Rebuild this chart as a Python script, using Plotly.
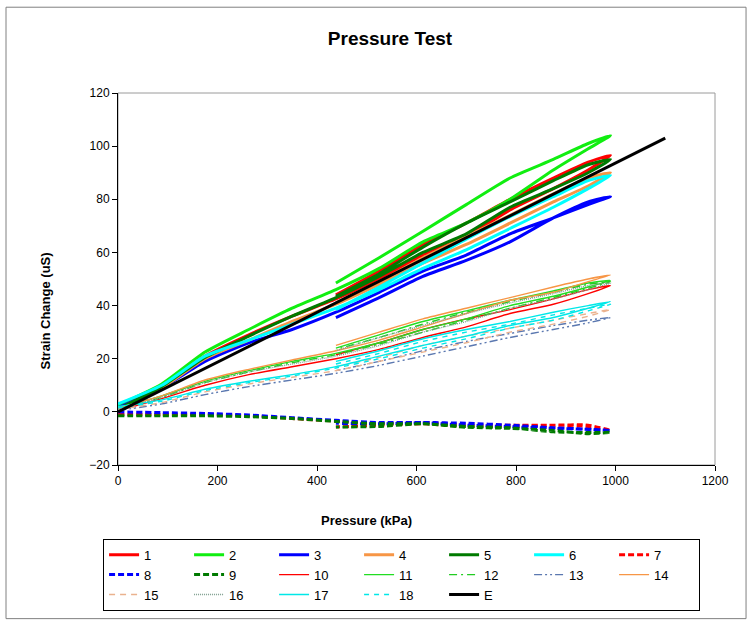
import plotly.graph_objects as go

# Pressure steps: loading up to ~990 kPa, then unloading back to ~440 kPa
pressure = [0, 88, 175, 263, 350, 438, 525, 613, 700, 788, 875, 945, 990,
            945, 875, 788, 700, 613, 525, 438]

s1 = [1, 9.5, 21, 29, 36, 42.5, 50, 59, 66, 76, 84, 91, 96.5, 94, 88, 80, 71, 63, 53, 44]
s2 = [2.5, 10.5, 22.5, 31, 39, 46, 54, 64, 71, 80, 91, 99, 104, 101, 95, 88, 78, 68, 58, 48.5]
s3 = [1.5, 9, 19, 26, 31, 37.5, 45, 53, 59, 67, 73, 78, 81, 79, 73, 64, 57, 51, 43, 35.5]
s4 = [1, 9, 20, 27, 34, 40.5, 48, 56, 63, 71, 79, 85, 90, 88, 82, 74, 66, 58, 49, 41]
s5 = [1, 9.5, 20.5, 28.5, 36, 43, 51, 60, 67, 77, 84, 90, 95, 93, 87, 79, 71, 62, 52, 43.5]
s6 = [3, 10, 21, 27, 33, 39, 46, 54, 61, 69, 77, 84, 89, 87, 81, 73.5, 65, 56, 47, 38.5]
s7 = [-1, -1, -1, -1.5, -2.5, -3.5, -4.5, -4, -5, -5, -5, -5, -7, -5.5, -5, -5.5, -5.5, -4.5, -5, -5.7]
s8 = [0, -0.3, -0.6, -1.2, -2.2, -3.2, -4, -4, -4.3, -5, -6, -6.5, -7, -6.6, -6.2, -5.6, -5, -4.2, -4.5, -4.3]
s9 = [-1.5, -1.5, -1.5, -1.8, -2.5, -3.6, -4.5, -4.5, -5.5, -6, -7.5, -7.8, -7.7, -8.2, -7, -6.2, -5.8, -4.5, -5.5, -5.7]
s10 = [0.5, 5, 10, 14, 17, 20, 23.5, 28, 32, 37, 40.5, 44.5, 47.5, 46, 42.5, 38.5, 35, 31, 26, 21.5]
s11 = [1.5, 6, 11.5, 15.5, 19, 22, 26, 31, 35, 40, 43.5, 47, 49.5, 48.5, 45.5, 42, 38, 34, 29, 24]
s12 = [1, 5.5, 11, 15, 18.5, 21.5, 25.5, 30, 34.5, 39, 43, 46.5, 49, 48, 45, 41.5, 37.5, 33, 28, 23.5]
s13 = [0.5, 3, 6.5, 9.5, 12, 14.5, 17.5, 21, 24.5, 28, 31, 33.5, 35.5, 34.5, 32.5, 29.5, 26.5, 23, 19, 15.5]
s14 = [1.5, 6, 12, 16, 19.5, 23, 27, 32, 37, 42, 45, 49, 51.5, 50, 47, 43, 39, 35, 30, 25]
s15 = [1, 3.5, 7.5, 10.5, 13, 15.5, 19, 22.5, 26, 30, 33, 36, 38.5, 37, 34.5, 31.5, 28.5, 25, 20.5, 17]
s16 = [1, 5.5, 11, 15, 18, 21, 25, 30, 34, 39, 42.5, 46, 48.5, 47.5, 44.5, 41, 37, 32.5, 28, 23]
s17 = [2, 4.5, 8.5, 11.5, 14, 17, 21, 25, 28.5, 32.5, 35.5, 39, 41.5, 40, 37.5, 34, 31, 27.5, 23, 19]
s18 = [1.5, 4, 8, 11, 13.5, 16.5, 20, 24, 27.5, 31.5, 34.5, 38, 40.5, 39, 36.5, 33, 30, 26.5, 22, 18]

# Theoretical (expected) response
e_pressure = [0, 1100]
e_strain = [0, 103]

x_ticks = [0, 200, 400, 600, 800, 1000, 1200]
y_ticks = [-20, 0, 20, 40, 60, 80, 100, 120]

series = [
    ("1", s1, "#ff0000", 3, "solid"),
    ("2", s2, "#11ee11", 3, "solid"),
    ("3", s3, "#0000ff", 3, "solid"),
    ("4", s4, "#f79646", 3, "solid"),
    ("5", s5, "#007a00", 3, "solid"),
    ("6", s6, "#00ffff", 3, "solid"),
    ("7", s7, "#ff0000", 3, "6px,3px"),
    ("8", s8, "#0000ff", 3, "6px,3px"),
    ("9", s9, "#007a00", 3, "6px,3px"),
    ("10", s10, "#ff0000", 1.4, "solid"),
    ("11", s11, "#22dd22", 1.4, "solid"),
    ("12", s12, "#22cc22", 1.4, "8px,4px,2px,4px"),
    ("13", s13, "#5b78b0", 1.4, "8px,3px,2px,3px,2px,3px"),
    ("14", s14, "#f79646", 1.4, "solid"),
    ("15", s15, "#eab28e", 1.4, "6px,5px"),
    ("16", s16, "#7f9f8f", 1.4, "1px,1px"),
    ("17", s17, "#00e8e8", 1.4, "solid"),
    ("18", s18, "#00e8e8", 1.4, "5px,5px"),
]

fig = go.Figure()
for name, ys, color, width, dash in series:
    fig.add_trace(go.Scatter(
        x=pressure, y=ys, name=name, mode="lines",
        line=dict(color=color, width=width, dash=dash,
                  shape="spline", smoothing=0.6),
    ))
fig.add_trace(go.Scatter(
    x=e_pressure, y=e_strain, name="E", mode="lines",
    line=dict(color="#000000", width=3),
))

font_family = "Liberation Sans, Arial, sans-serif"

fig.update_layout(
    width=747, height=621,
    margin=dict(l=118, r=32, t=93, b=155),
    paper_bgcolor="white", plot_bgcolor="white",
    font=dict(family=font_family, size=12, color="black"),
    title=dict(
        text="<b>Pressure Test</b>", font=dict(size=19, family=font_family),
        x=0.4556, xref="paper", xanchor="center",
        y=1 - 38 / 621, yref="container", yanchor="middle",
    ),
    xaxis=dict(
        range=[0, 1200], tickvals=x_ticks, showgrid=False, zeroline=False,
        showline=True, linecolor="black", linewidth=1,
        ticks="outside", ticklen=5, tickcolor="black",
        tickfont=dict(size=12), automargin=False,
    ),
    yaxis=dict(
        range=[-20, 120], tickvals=y_ticks, showgrid=False, zeroline=False,
        showline=True, linecolor="black", linewidth=1,
        ticks="outside", ticklen=5, tickcolor="black",
        tickfont=dict(size=12), automargin=False,
    ),
    legend=dict(
        orientation="h", x=0.475, xanchor="center",
        y=-0.195, yanchor="top",
        entrywidth=40, entrywidthmode="pixels",
        bordercolor="black", borderwidth=1,
        font=dict(size=13), traceorder="normal",
    ),
    showlegend=True,
    annotations=[
        dict(text="<b>Strain Change (uS)</b>", textangle=-90,
             x=-0.1223, y=0.4155, xref="paper", yref="paper",
             xanchor="center", yanchor="middle",
             showarrow=False, font=dict(size=13)),
        dict(text="<b>Pressure (kPa)</b>",
             x=0.417, y=-0.150, xref="paper", yref="paper",
             xanchor="center", yanchor="middle",
             showarrow=False, font=dict(size=13)),
    ],
    shapes=[
        # plot-area border
        dict(type="rect", xref="paper", yref="paper", x0=0, y0=0, x1=1, y1=1,
             line=dict(color="#9a9a9a", width=1), layer="below"),
        # outer chart frame
        dict(type="rect", xref="paper", yref="paper",
             x0=-0.1876, y0=-0.413, x1=1.052, y1=1.2306,
             line=dict(color="#808080", width=1), layer="below"),
    ],
)

fig.write_html("out.html")
